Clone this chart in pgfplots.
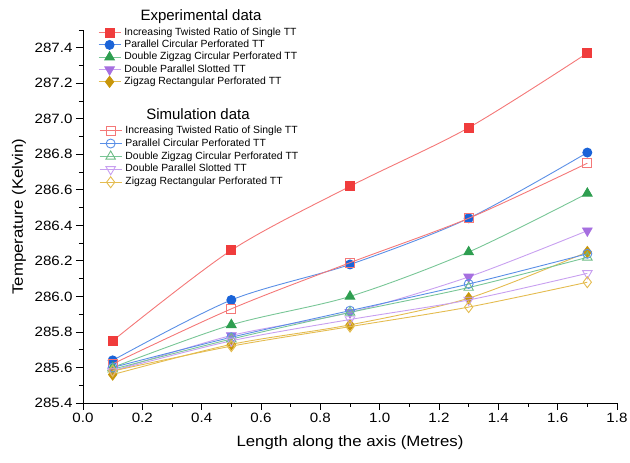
\documentclass[border=0pt]{standalone}
\usepackage{fontspec}
\setmainfont{Liberation Sans}
\newfontfamily\wide{Liberation Sans}[FakeStretch=1.12]
\usepackage{pgfplots}
\pgfplotsset{compat=1.18}

\definecolor{rM}{RGB}{240,60,60}
\definecolor{rL}{RGB}{244,120,120}
\definecolor{bM}{RGB}{26,99,216}
\definecolor{bL}{RGB}{90,143,230}
\definecolor{gM}{RGB}{46,158,80}
\definecolor{gL}{RGB}{120,198,150}
\definecolor{pM}{RGB}{166,111,224}
\definecolor{pL}{RGB}{200,160,240}
\definecolor{oM}{RGB}{200,150,10}
\definecolor{oL}{RGB}{228,188,80}

\pgfplotsset{
  base/.style={
    scale only axis, width=534pt, height=373pt,
    at={(0pt,0pt)}, anchor=south west,
    xmin=0, xmax=1.8, ymin=285.4, ymax=287.5,
    clip=false,
    legend cell align=left,
    legend image code/.code={\draw[mark repeat=2,mark phase=2] plot coordinates {(0pt,0pt) (11pt,0pt) (22pt,0pt)};},
  },
  exp/.style={smooth, line width=0.9pt, mark size=4.5pt, mark options={solid}},
  sim/.style={smooth, line width=0.9pt, mark size=4.5pt, mark options={solid, fill=white, line width=0.9pt}},
}

\begin{document}
\begin{tikzpicture}
\useasboundingbox (-83pt,-60pt) rectangle (547pt,403pt);
\begin{axis}[base,
  axis x line*=bottom, axis y line*=left,
  axis line style={-, line width=0.9pt},
  tick align=outside, major tick length=7pt, minor tick length=4pt,
  tick style={line width=0.9pt, black},
  xtick={0,0.2,...,1.8}, ytick={285.4,285.6,...,287.4},
  minor xtick={0.1,0.3,0.5,0.7,0.9,1.1,1.3,1.5,1.7},
  minor ytick={285.5,285.7,285.9,286.1,286.3,286.5,286.7,286.9,287.1,287.3,287.5},
  ticklabel style={font=\wide\fontsize{13.5}{14}\selectfont},
  /pgf/number format/assume math mode=true,
  xticklabel style={/pgf/number format/.cd, fixed, fixed zerofill, precision=1},
  yticklabel style={/pgf/number format/.cd, fixed, fixed zerofill, precision=1, 1000 sep={}},
  xlabel={Length along the axis (Metres)},
  ylabel={Temperature (Kelvin)},
  label style={font=\wide\fontsize{15}{16}\selectfont},
  xlabel style={at={(axis description cs:0.5,-0.1072)}, anchor=center},
  ylabel style={at={(axis description cs:-0.1199,0.5)}, anchor=center},
  legend style={at={(rel axis cs:0.028,1.010)}, anchor=north west, draw=none, fill=none,
    inner sep=0pt, row sep=0pt, font=\fontsize{10.4}{10.4}\selectfont,
    nodes={text height=7.4pt, text depth=2.3pt, inner sep=1.3pt},
    /tikz/every odd column/.append style={column sep=2pt}},
]
\addplot[exp, color=rL, mark=square*, mark options={draw=rM, fill=rM}] coordinates {(0.1,285.75) (0.5,286.26) (0.9,286.62) (1.3,286.95) (1.7,287.37)};
\addlegendentry{Increasing Twisted Ratio of Single TT}
\addplot[exp, color=bL, mark=*, mark options={draw=bM, fill=bM}] coordinates {(0.1,285.64) (0.5,285.98) (0.9,286.18) (1.3,286.44) (1.7,286.81)};
\addlegendentry{Parallel Circular Perforated TT}
\addplot[exp, color=gL, mark=triangle*, mark size=5.5pt, mark options={draw=gM, fill=gM}] coordinates {(0.1,285.60) (0.5,285.84) (0.9,286.00) (1.3,286.25) (1.7,286.58)};
\addlegendentry{Double Zigzag Circular Perforated TT}
\addplot[exp, color=pL, mark=triangle*, mark size=5.5pt, mark options={draw=pM, fill=pM, rotate=180}] coordinates {(0.1,285.58) (0.5,285.78) (0.9,285.91) (1.3,286.11) (1.7,286.37)};
\addlegendentry{Double Parallel Slotted TT}
\addplot[exp, color=oL, mark=diamond*, mark size=5.5pt, mark options={draw=oM, fill=oM}] coordinates {(0.1,285.56) (0.5,285.73) (0.9,285.84) (1.3,285.99) (1.7,286.25)};
\addlegendentry{Zigzag Rectangular Perforated TT}
\node[font=\fontsize{15}{15}\selectfont, anchor=center] at (rel axis cs:0.221,1.035) {Experimental data};
\node[font=\fontsize{15}{15}\selectfont, anchor=center] at (rel axis cs:0.2154,0.7748) {Simulation data};
\end{axis}
\begin{axis}[base, hide axis,
  legend style={at={(rel axis cs:0.030,0.748)}, anchor=north west, draw=none, fill=none,
    inner sep=0pt, row sep=0pt, font=\fontsize{10.4}{10.4}\selectfont,
    nodes={text height=7.7pt, text depth=2.5pt, inner sep=1.35pt},
    /tikz/every odd column/.append style={column sep=2pt}},
]
\addplot[sim, color=rL, mark=square, mark options={draw=rL}] coordinates {(0.1,285.62) (0.5,285.93) (0.9,286.19) (1.3,286.44) (1.7,286.75)};
\addlegendentry{Increasing Twisted Ratio of Single TT}
\addplot[sim, color=bL, mark=o, mark options={draw=bL}] coordinates {(0.1,285.60) (0.5,285.77) (0.9,285.92) (1.3,286.07) (1.7,286.24)};
\addlegendentry{Parallel Circular Perforated TT}
\addplot[sim, color=gL, mark=triangle, mark size=5.5pt, mark options={draw=gM!70!white}] coordinates {(0.1,285.59) (0.5,285.76) (0.9,285.91) (1.3,286.05) (1.7,286.22)};
\addlegendentry{Double Zigzag Circular Perforated TT}
\addplot[sim, color=pL, mark=triangle, mark size=5.5pt, mark options={draw=pL, rotate=180}] coordinates {(0.1,285.58) (0.5,285.75) (0.9,285.87) (1.3,285.98) (1.7,286.13)};
\addlegendentry{Double Parallel Slotted TT}
\addplot[sim, color=oL, mark=diamond, mark size=5.5pt, mark options={draw=oL}] coordinates {(0.1,285.58) (0.5,285.72) (0.9,285.83) (1.3,285.94) (1.7,286.08)};
\addlegendentry{Zigzag Rectangular Perforated TT}
\end{axis}
\end{tikzpicture}
\end{document}
